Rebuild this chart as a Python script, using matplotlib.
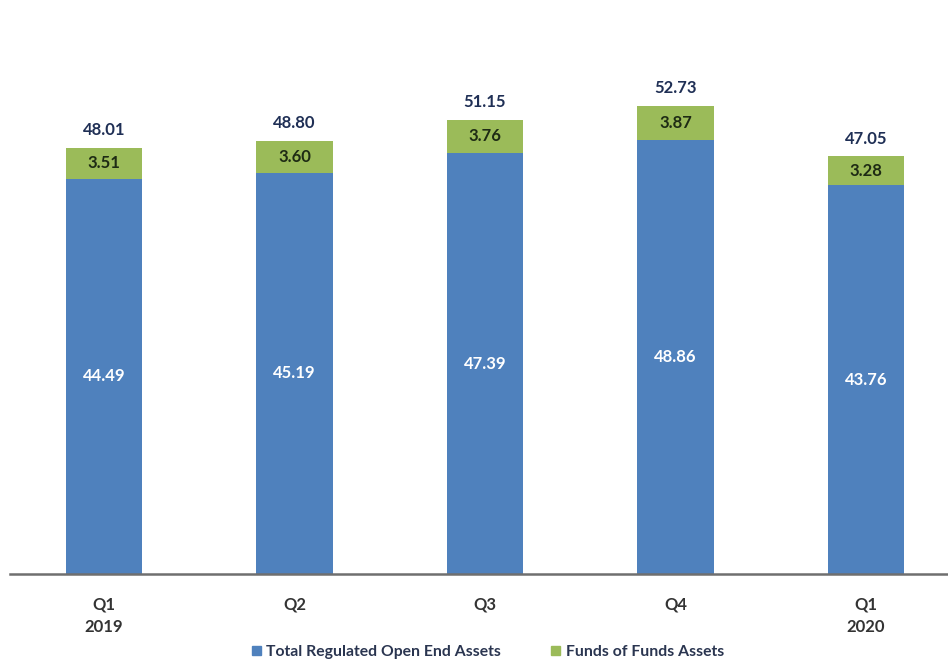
import matplotlib
matplotlib.use("Agg")
import matplotlib.pyplot as plt
from matplotlib.patches import Patch

plt.rcParams['font.family'] = ['Lato', 'DejaVu Sans']

categories = ["Q1\n2019", "Q2", "Q3", "Q4", "Q1\n2020"]
open_end = [44.49, 45.19, 47.39, 48.86, 43.76]
fof = [3.51, 3.60, 3.76, 3.87, 3.28]
totals = [48.01, 48.80, 51.15, 52.73, 47.05]

blue = "#4F81BD"
green = "#9BBB59"
navy = "#1F2F55"

fig = plt.figure(figsize=(9.48, 6.6), dpi=100)
ax = fig.add_axes([10/948, 86/660, 938/948, 533/660])
x = list(range(len(categories)))
w = 0.40
ax.bar(x, open_end, width=w, color=blue, zorder=2)
ax.bar(x, fof, width=w, bottom=open_end, color=green, zorder=2)

for i in x:
    ax.text(i, open_end[i] / 2, f"{open_end[i]:.2f}", ha="center", va="center",
            color="white", fontsize=12, fontweight="bold")
    ax.text(i, open_end[i] + fof[i] / 2, f"{fof[i]:.2f}", ha="center", va="center",
            color="#1E2B14", fontsize=12, fontweight="bold")
    ax.annotate(f"{totals[i]:.2f}", (i, totals[i]), xytext=(0, 12.5), textcoords="offset points",
                ha="center", va="center", color=navy, fontsize=12, fontweight="bold")

ax.set_xlim(-0.493, 4.43)
ax.set_ylim(0, 60)
for s in ["top", "right", "left"]:
    ax.spines[s].set_visible(False)
ax.spines["bottom"].set_color("#6F6F6F")
ax.spines["bottom"].set_linewidth(1.8)
ax.set_yticks([])
ax.set_xticks(x)
ax.set_xticklabels(categories, fontsize=12, fontweight="bold", color="#333333", linespacing=1.45)
ax.tick_params(axis="x", length=0, pad=16.5)

handles = [Patch(color=blue, label="Total Regulated Open End Assets"),
           Patch(color=green, label="Funds of Funds Assets")]
leg = fig.legend(handles=handles, loc="center", bbox_to_anchor=(488/948, 1 - 652/660), ncol=2,
                 frameon=False, fontsize=11.3, handlelength=0.55, handleheight=0.55,
                 handletextpad=0.35, columnspacing=3.2)
for t in leg.get_texts():
    t.set_color("#2A3550")
    t.set_fontweight("bold")

fig.savefig("out.png", dpi=100)
